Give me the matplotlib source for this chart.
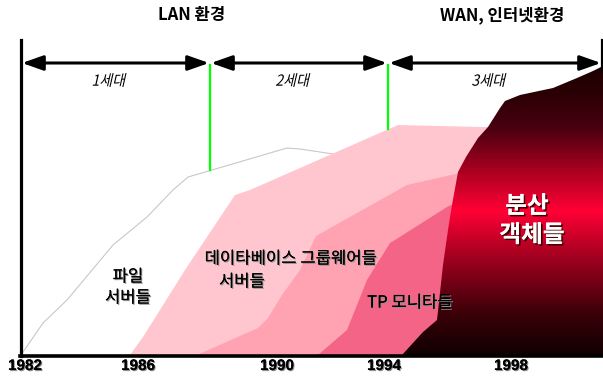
import matplotlib.pyplot as plt
import matplotlib.patheffects as pe
import matplotlib.transforms as mtransforms
import numpy as np
from matplotlib.colors import LinearSegmentedColormap
from matplotlib.font_manager import FontProperties
from matplotlib.patches import FancyArrowPatch, PathPatch
from matplotlib.textpath import TextPath

plt.rcParams['font.family'] = ['Noto Sans CJK KR', 'DejaVu Sans']

# chart is drawn in pixel-like units: x to the right, y downwards
years = ["1982", "1986", "1990", "1994", "1998"]
year_pos = [25, 138, 277, 384, 511]

era_labels = ["1세대", "2세대", "3세대"]
era_bounds = [21, 210, 388, 602]
era_marks = [170, 129]  # lower end of the green dividers

env_labels = ["LAN 환경", "WAN, 인터넷환경"]

# outline of each market area
file_x = [21, 43, 67, 113, 147, 173, 188, 212, 287, 300, 340]
file_y = [355, 323, 300, 245, 217, 190, 177, 170, 148, 149, 155]

db_x = [130, 143, 185, 235, 250, 300, 398, 480, 500, 500]
db_y = [355, 337, 270, 195, 190, 168, 125, 127, 127, 355]

grp_x = [197, 258, 268, 282, 300, 316, 407, 460, 500, 500]
grp_y = [355, 328, 318, 295, 270, 236, 185, 173, 173, 355]

tp_x = [318, 347, 367, 390, 395, 447, 455, 500, 500]
tp_y = [355, 330, 280, 243, 240, 207, 203, 200, 355]

obj_x = [402, 423, 437, 443, 448, 452, 458, 466, 478, 488, 500, 505,
         520, 553, 577, 593, 603, 603]
obj_y = [355, 332, 320, 265, 230, 205, 172, 157, 138, 127, 108, 101,
         95, 88, 78, 71, 66, 355]

fig = plt.figure(figsize=(6.03, 3.80), dpi=100)
ax = fig.add_axes([0, 0, 1, 1])
ax.set_xlim(0, 603)
ax.set_ylim(380, 0)
ax.axis('off')

ax.plot(file_x, file_y, color='#c8c8c8', lw=0.8, zorder=1)
ax.fill(db_x, db_y, color='#ffc6cf', lw=0, zorder=2)
ax.fill(grp_x, grp_y, color='#ffa2b1', lw=0, zorder=3)
ax.fill(tp_x, tp_y, color='#f46486', lw=0, zorder=4)

# dark red gradient for distributed objects
cmap = LinearSegmentedColormap.from_list('obj', [
    (0.0, '#1a0000'), (0.11, '#2a0005'), (0.23, '#4a0010'),
    (0.37, '#a8001f'), (0.51, '#ff0035'), (0.67, '#a0001f'),
    (0.86, '#3a0008'), (1.0, '#100000')])
grad = np.linspace(0, 1, 300).reshape(-1, 1)
im = ax.imshow(grad, extent=[395, 604, 356, 60], cmap=cmap,
               aspect='auto', zorder=5, interpolation='bilinear')
clip = ax.fill(obj_x, obj_y, facecolor='none', lw=0, zorder=5)[0]
im.set_clip_path(clip)

# frame
ax.plot([21, 21], [40, 356], color='black', lw=2.3, zorder=8)
ax.plot([20, 603], [355.5, 355.5], color='black', lw=2.6, zorder=8)
ax.plot([602, 602], [40, 70], color='black', lw=2.3, zorder=8)


def slanted_text(x, y, s, size):
    """Fake italic: skewed text path centred on (x, y)."""
    prop = FontProperties(family='Noto Sans CJK KR', weight='light')
    tp = TextPath((0, 0), s, size=size, prop=prop)
    bb = tp.get_extents()
    px = fig.dpi / 72.0
    dx, dy = ax.transData.transform((x, y))
    tr = (mtransforms.Affine2D()
          .translate(-(bb.x0 + bb.x1) / 2, -(bb.y0 + bb.y1) / 2)
          .skew_deg(14, 0)
          .scale(px * 0.92, px)
          .translate(dx, dy))
    ax.add_patch(PathPatch(tp, transform=tr, facecolor='black',
                           lw=0, zorder=9))


# era arrows
for i, lab in enumerate(era_labels):
    x0, x1 = era_bounds[i] + 1, era_bounds[i + 1] - 1
    arr = FancyArrowPatch((x0, 63), (x1, 63),
                          arrowstyle='<|-|>,head_length=0.85,head_width=0.3',
                          mutation_scale=15, lw=2.2, color='black',
                          shrinkA=0, shrinkB=0, zorder=9)
    ax.add_patch(arr)
    slanted_text((x0 + x1) / 2 - 6, 80, lab, 11)
for xb, yb in zip(era_bounds[1:3], era_marks):
    ax.plot([xb, xb], [65, yb], color='#00ff00', lw=1.6, zorder=7)

ax.text(192, 15, env_labels[0], ha='center', va='center', fontsize=12,
        fontweight='bold')
ax.text(502, 15, env_labels[1], ha='center', va='center', fontsize=12,
        fontweight='bold')

shadow = [pe.withSimplePatchShadow(offset=(0.8, -0.8),
                                   shadow_rgbFace='#909090', alpha=1),
          pe.Normal()]
for lab, xp in zip(years, year_pos):
    ax.text(xp, 366, lab, ha='center', va='center', fontsize=11,
            fontweight='bold', family='Liberation Sans', path_effects=shadow,
            zorder=9)

ax.text(128, 277, "파일", ha='center', va='center', fontsize=12,
        path_effects=shadow, zorder=9)
ax.text(128, 298, "서버들", ha='center', va='center', fontsize=12,
        path_effects=shadow, zorder=9)
ax.text(291, 259, "데이타베이스 그룹웨어들", ha='center', va='center',
        fontsize=12, path_effects=shadow, zorder=9)
ax.text(242, 282, "서버들", ha='center', va='center', fontsize=12,
        path_effects=shadow, zorder=9)
ax.text(410, 303, "TP 모니타들", ha='center', va='center', fontsize=12,
        path_effects=shadow, zorder=9)

dark = [pe.withSimplePatchShadow(offset=(1.2, -1.2),
                                 shadow_rgbFace='#400000', alpha=1),
        pe.Normal()]
ax.text(527, 206, "분산", ha='center', va='center', fontsize=17,
        fontweight='bold', color='white', path_effects=dark, zorder=9)
ax.text(532, 235, "객체들", ha='center', va='center', fontsize=17,
        fontweight='bold', color='white', path_effects=dark, zorder=9)

fig.savefig('out.png', dpi=100)
